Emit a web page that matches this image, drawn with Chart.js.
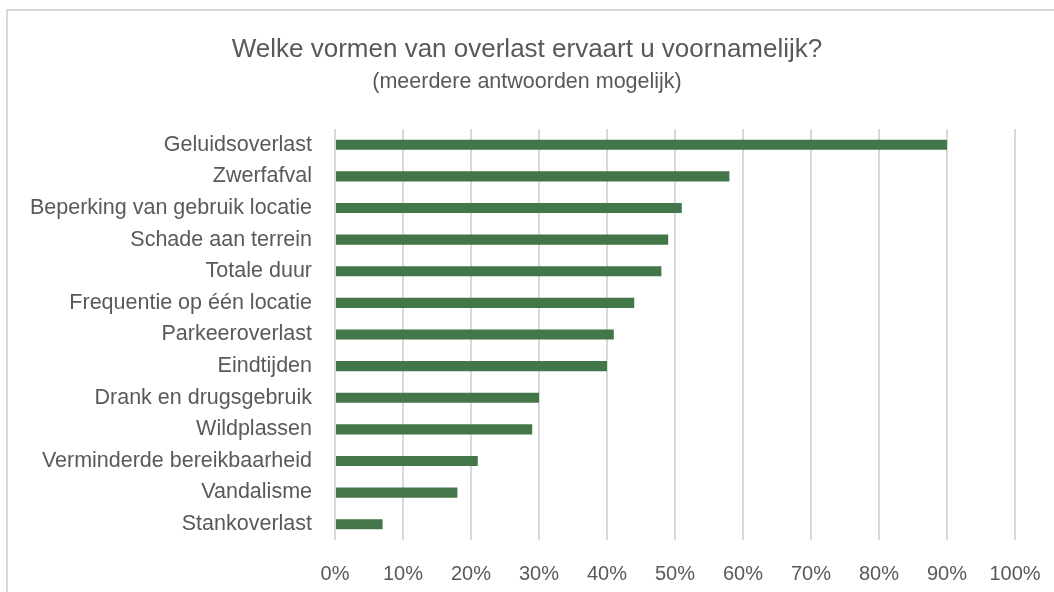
<!DOCTYPE html>
<html>
<head>
<meta charset="utf-8">
<script src="https://cdn.jsdelivr.net/npm/chart.js@4/dist/chart.umd.min.js"></script>
<style>
  html, body { margin: 0; padding: 0; background: #ffffff; overflow: hidden; }
  #wrap { position: relative; width: 1054px; height: 592px; }
  #frame { position: absolute; left: 6px; top: 9px; width: 1100px; height: 700px; border: 2px solid #d9d9d9; box-sizing: border-box; pointer-events: none; }
  canvas { position: absolute; left: 0; top: 0; }
</style>
</head>
<body>
<div id="wrap">
  <div id="frame"></div>
  <canvas id="c" width="1054" height="592"></canvas>
</div>
<script>
const titleText = 'Welke vormen van overlast ervaart u voornamelijk?';
const subtitleText = '(meerdere antwoorden mogelijk)';
const categories = [
  'Geluidsoverlast',
  'Zwerfafval',
  'Beperking van gebruik locatie',
  'Schade aan terrein',
  'Totale duur',
  'Frequentie op één locatie',
  'Parkeeroverlast',
  'Eindtijden',
  'Drank en drugsgebruik',
  'Wildplassen',
  'Verminderde bereikbaarheid',
  'Vandalisme',
  'Stankoverlast'
];
const percentages = [90, 58, 51, 49, 48, 44, 41, 40, 30, 29, 21, 18, 7];
const axisMin = 0;
const axisMax = 100;
const axisStep = 10;

const FONT = "'Liberation Sans', Arial, sans-serif";
const TEXT = '#595959';

new Chart(document.getElementById('c'), {
  type: 'bar',
  data: {
    labels: categories,
    datasets: [{
      data: percentages,
      backgroundColor: '#437648',
      borderWidth: 0,
      barPercentage: 0.32,
      categoryPercentage: 1
    }]
  },
  options: {
    indexAxis: 'y',
    responsive: false,
    animation: false,
    devicePixelRatio: 1,
    layout: { padding: 0 },
    plugins: {
      legend: { display: false },
      tooltip: { enabled: false },
      title: {
        display: true,
        text: titleText,
        color: TEXT,
        font: { family: FONT, size: 26, weight: 'normal' },
        padding: { top: 34, bottom: 2 }
      },
      subtitle: {
        display: true,
        text: subtitleText,
        color: TEXT,
        font: { family: FONT, size: 21.5, weight: 'normal' },
        padding: { top: 2, bottom: 34 }
      }
    },
    scales: {
      x: {
        min: axisMin,
        max: axisMax,
        position: 'bottom',
        afterFit: (s) => { s.height = 52; s.paddingRight = 39; },
        ticks: {
          stepSize: axisStep,
          color: TEXT,
          font: { family: FONT, size: 20 },
          padding: 22,
          callback: (v) => v + '%'
        },
        grid: { color: '#d9d9d9', lineWidth: 2, drawTicks: false },
        border: { display: false }
      },
      y: {
        afterFit: (s) => { s.width = 335; },
        ticks: {
          color: TEXT,
          font: { family: FONT, size: 21.5 },
          padding: 23,
          autoSkip: false
        },
        grid: { display: false, drawTicks: false },
        border: { display: false }
      }
    }
  }
});
</script>
</body>
</html>
